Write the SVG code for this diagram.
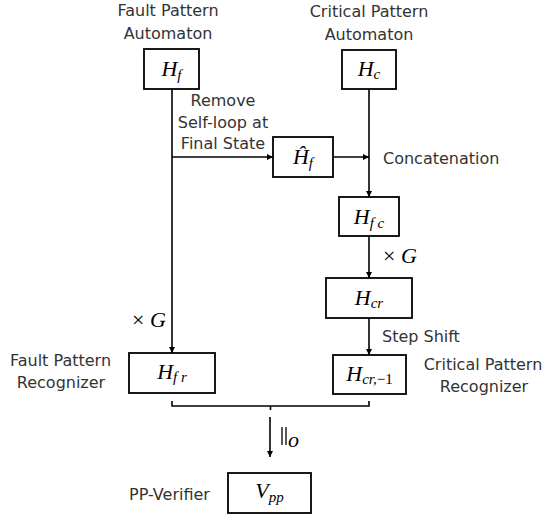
<svg xmlns="http://www.w3.org/2000/svg" width="546" height="516" viewBox="0 0 546 516">
<style>
.box{fill:#fff;stroke:#000;stroke-width:1.8}
.ln{fill:none;stroke:#000;stroke-width:1.6}
.t{font-family:"DejaVu Sans","Noto Sans",sans-serif;font-size:16px;fill:#333}
.m{font-family:"Liberation Serif","Times New Roman",serif;font-style:italic;font-size:22px;fill:#000}
.s{font-size:15px}
.n{font-style:normal}
</style>
<defs>
<marker id="ah" viewBox="0 0 8 8" refX="8" refY="4" markerWidth="6" markerHeight="6" markerUnits="userSpaceOnUse" orient="auto">
<path d="M0,0 L8,4 L0,8 z" fill="#000"/>
</marker>
</defs>
<rect width="546" height="516" fill="#fff"/>
<g id="connectors">
<path class="ln" d="M172,89 V353" marker-end="url(#ah)"/>
<path class="ln" d="M172,157 H273" marker-end="url(#ah)"/>
<path class="ln" d="M333,157 H369" marker-end="url(#ah)"/>
<path class="ln" d="M369,89 V197" marker-end="url(#ah)"/>
<path class="ln" d="M369,236 V278" marker-end="url(#ah)"/>
<path class="ln" d="M369,318 V355" marker-end="url(#ah)"/>
<path class="ln" d="M172,401 V406 H369 V401"/>
<path class="ln" d="M270.5,406 V410"/>
<path class="ln" d="M270,417 V457" marker-end="url(#ah)"/>
<text class="t" x="223" y="106" text-anchor="middle">Remove</text>
<text class="t" x="223" y="128" text-anchor="middle">Self-loop at</text>
<text class="t" x="223" y="149" text-anchor="middle">Final State</text>
<text class="t" x="383" y="164" font-size="16.5">Concatenation</text>
<text class="m" x="383" y="263" font-size="19"><tspan class="n">×</tspan> G</text>
<text class="m" x="132" y="327" font-size="19"><tspan class="n">×</tspan> G</text>
<text class="t" x="382" y="342">Step Shift</text>
<g stroke="#000" stroke-width="1.3"><path d="M282,427 V445 M286,427 V445"/></g>
<text class="m" x="288" y="447" font-size="15">o</text>
</g>
<g id="Hf">
<rect class="box" x="144" y="49" width="55" height="40"/>
<text class="m" x="171.5" y="76" text-anchor="middle">H<tspan class="s" dy="4">f</tspan></text>
<text class="t" x="168" y="16" text-anchor="middle">Fault Pattern</text>
<text class="t" x="168" y="39" text-anchor="middle">Automaton</text>
</g>
<g id="Hc">
<rect class="box" x="342" y="50" width="54" height="39"/>
<text class="m" x="369" y="76" text-anchor="middle">H<tspan class="s" dy="3">c</tspan></text>
<text class="t" x="369" y="17" text-anchor="middle">Critical Pattern</text>
<text class="t" x="369" y="40" text-anchor="middle">Automaton</text>
</g>
<g id="Hfhat">
<rect class="box" x="273" y="137" width="60" height="40"/>
<text class="m" x="303" y="164" text-anchor="middle">Ĥ<tspan class="s" dy="4">f</tspan></text>
</g>
<g id="Hfc">
<rect class="box" x="339" y="197" width="60" height="39"/>
<text class="m" x="369" y="224" text-anchor="middle">H<tspan class="s" dy="4">f c</tspan></text>
</g>
<g id="Hcr">
<rect class="box" x="326" y="278" width="86" height="40"/>
<text class="m" x="369" y="305" text-anchor="middle">H<tspan class="s" dy="3">cr</tspan></text>
</g>
<g id="Hcr1">
<rect class="box" x="333" y="355" width="73" height="39"/>
<text class="m" x="369.5" y="381" text-anchor="middle">H<tspan class="s" dy="3">cr,<tspan class="n">−1</tspan></tspan></text>
<text class="t" x="483" y="370" text-anchor="middle">Critical Pattern</text>
<text class="t" x="484" y="392" text-anchor="middle">Recognizer</text>
</g>
<g id="Hfr">
<rect class="box" x="129" y="353" width="86" height="40"/>
<text class="m" x="172" y="379" text-anchor="middle">H<tspan class="s" dy="3">f r</tspan></text>
<text class="t" x="60.5" y="366" text-anchor="middle">Fault Pattern</text>
<text class="t" x="61" y="388" text-anchor="middle">Recognizer</text>
</g>
<g id="Vpp">
<rect class="box" x="228" y="473" width="83" height="40"/>
<text class="m" x="269.5" y="498" text-anchor="middle">V<tspan class="s" dy="4">pp</tspan></text>
<text class="t" x="169.5" y="500" text-anchor="middle">PP-Verifier</text>
</g>
</svg>
